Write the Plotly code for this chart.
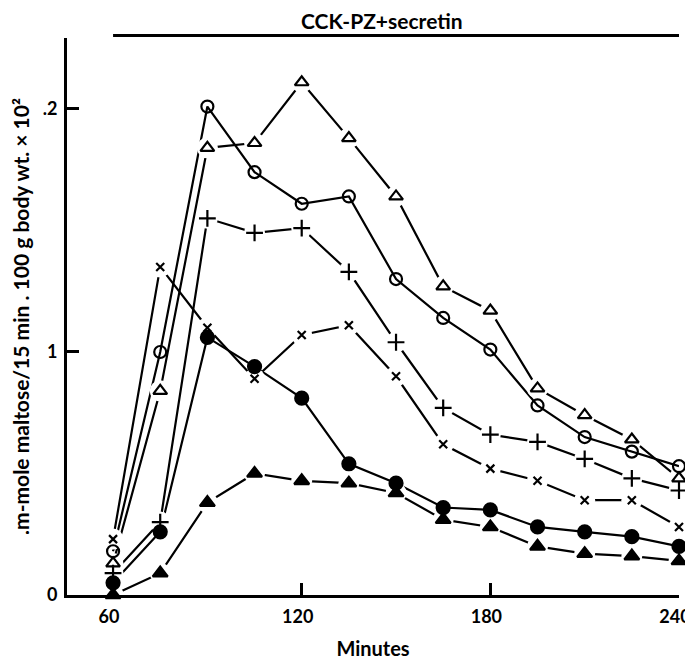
import plotly.graph_objects as go

minutes = [60, 75, 90, 105, 120, 135, 150, 165, 180, 195, 210, 225, 240]

open_triangle = [0.13, 0.84, 1.84, 1.86, 2.11, 1.88, 1.64, 1.27, 1.17, 0.85, 0.74, 0.64, 0.48]
open_circle = [0.18, 1.00, 2.01, 1.74, 1.61, 1.64, 1.30, 1.14, 1.01, 0.78, 0.65, 0.59, 0.53]
plus = [0.09, 0.30, 1.55, 1.49, 1.51, 1.33, 1.04, 0.77, 0.66, 0.63, 0.56, 0.48, 0.43]
cross = [0.23, 1.35, 1.10, 0.89, 1.07, 1.11, 0.90, 0.62, 0.52, 0.47, 0.39, 0.39, 0.28]
filled_circle = [0.05, 0.26, 1.06, 0.94, 0.81, 0.54, 0.46, 0.36, 0.35, 0.28, 0.26, 0.24, 0.20]
filled_triangle = [0.00, 0.09, 0.38, 0.50, 0.47, 0.46, 0.42, 0.31, 0.28, 0.20, 0.17, 0.16, 0.14]

x_ticks = [60, 120, 180, 240]
x_tick_labels = ["60", "120", "180", "240"]
y_ticks = [0, 1, 2]
y_tick_labels = ["0", "1", ".2"]

series = [
    ("open triangle", open_triangle, "triangle-up-open", 12, True),
    ("open circle", open_circle, "circle-open", 12, False),
    ("plus", plus, "cross-thin-open", 12, True),
    ("cross", cross, "x-thin-open", 8, True),
    ("filled circle", filled_circle, "circle", 13, False),
    ("filled triangle", filled_triangle, "triangle-up", 13, True),
]

fig = go.Figure()
# lines
for name, ys, sym, sz, gap in series:
    fig.add_trace(go.Scatter(x=minutes, y=ys, mode="lines", name=name,
                             line=dict(color="black", width=2.2), showlegend=False,
                             cliponaxis=False, hoverinfo="skip"))
# white halos to create gaps near markers for the broken-line series
for name, ys, sym, sz, gap in series:
    if gap:
        fig.add_trace(go.Scatter(x=minutes, y=ys, mode="markers", showlegend=False,
                                 marker=dict(symbol="circle", size=21, color="white",
                                             line=dict(width=0)),
                                 cliponaxis=False, hoverinfo="skip"))
# markers
for name, ys, sym, sz, gap in series:
    fig.add_trace(go.Scatter(x=minutes, y=ys, mode="markers", name=name, showlegend=False,
                             marker=dict(symbol=sym, size=sz, color="black",
                                         line=dict(color="black", width=2.2)),
                             cliponaxis=False))

fig.add_shape(type="line", xref="x", yref="paper", x0=60, x1=240, y0=1.0045, y1=1.0045,
              line=dict(color="black", width=3))
fig.add_annotation(text="CCK-PZ+secretin", xref="paper", yref="paper", x=0.515, y=1.031,
                   xanchor="center", yanchor="middle", showarrow=False,
                   font=dict(family="Lato", size=21, color="black", weight="bold"))

# page body has an 8px default margin, so the figure is sized to fit the 693x661 window
fig.update_layout(
    width=685, height=653,
    margin=dict(l=59, r=14, t=30, b=66),
    paper_bgcolor="white", plot_bgcolor="white",
    font=dict(family="Lato", color="black"),
    xaxis=dict(range=[45.35, 240], tickvals=x_ticks, ticktext=x_tick_labels,
               ticks="inside", ticklen=12, tickwidth=2.5, tickcolor="black",
               showline=True, linecolor="black", linewidth=3, showgrid=False, zeroline=False,
               ticklabelshift=-4, ticklabelstandoff=3, automargin=False,
               tickfont=dict(size=18, family="Lato", weight="bold"),
               title=dict(text="Minutes", font=dict(size=20, family="Lato", weight="bold"),
                          standoff=17)),
    yaxis=dict(range=[0, 2.292], tickvals=y_ticks, ticktext=y_tick_labels,
               ticks="inside", ticklen=12, tickwidth=2.5, tickcolor="black",
               showline=True, linecolor="black", linewidth=3, showgrid=False, zeroline=False,
               ticklabelstandoff=3, automargin=False,
               tickfont=dict(size=18, family="Lato", weight="bold"),
               title=dict(text=".m-mole maltose/15 min . 100 g body wt. × 10²\u00a0\u00a0\u00a0\u00a0\u00a0",
                          font=dict(size=21, family="Lato", weight="bold"), standoff=18)),
)

fig.write_html("out.html")
